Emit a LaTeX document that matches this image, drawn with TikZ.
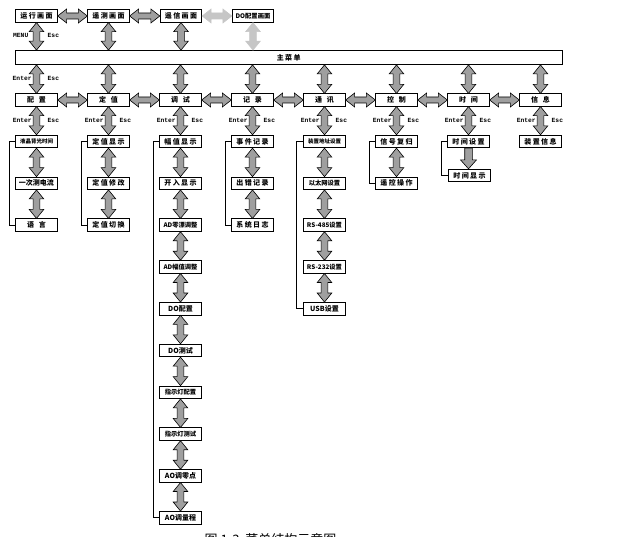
\documentclass[tikz,border=0pt]{standalone}
\usepackage{fontspec}
\setmonofont{Liberation Mono}
\newfontfamily\cjk{Noto Sans CJK SC}
\newfontfamily\cjkm[LetterSpace=20]{Noto Sans CJK SC}
\newfontfamily\cjkw[LetterSpace=70]{Noto Sans CJK SC}
\usetikzlibrary{calc}
\tikzset{
  box/.style={draw, line width=0.8pt, fill=white, minimum width=41.5pt, minimum height=12.5pt, inner sep=0pt, font=\cjk\bfseries\fontsize{7}{7}\selectfont},
  wide/.style={font=\cjkw\bfseries\fontsize{7}{7}\selectfont},
  mid/.style={font=\cjkm\bfseries\fontsize{7}{7}\selectfont},
  sm/.style={font=\cjk\bfseries\fontsize{5.5}{5.5}\selectfont},
  md/.style={font=\cjk\bfseries\fontsize{6.3}{6.3}\selectfont},
  darr/.style={draw=black, line width=0.6pt, fill=gray!75, line join=miter},
  larr/.style={draw=gray!45, line width=0.6pt, fill=gray!45},
  brk/.style={draw, line width=0.8pt},
  key/.style={font=\ttfamily\bfseries\fontsize{6.3}{6.3}\selectfont, inner sep=0pt},
}
\newcommand\vda[3][darr]{\draw[#1] let \p1=#2, \p2=#3 in (\x1,\y1) -- (\x1+7.3pt,\y1-9pt) -- (\x1+3.4pt,\y1-9pt) -- (\x1+3.4pt,\y2+9pt) -- (\x1+7.3pt,\y2+9pt) -- (\x1,\y2) -- (\x1-7.3pt,\y2+9pt) -- (\x1-3.4pt,\y2+9pt) -- (\x1-3.4pt,\y1-9pt) -- (\x1-7.3pt,\y1-9pt) -- cycle;}
\newcommand\hda[3][darr]{\draw[#1] let \p1=#2, \p2=#3 in (\x1,\y1) -- (\x1+9pt,\y1+7pt) -- (\x1+9pt,\y1+3pt) -- (\x2-9pt,\y1+3pt) -- (\x2-9pt,\y1+7pt) -- (\x2,\y1) -- (\x2-9pt,\y1-7pt) -- (\x2-9pt,\y1-3pt) -- (\x1+9pt,\y1-3pt) -- (\x1+9pt,\y1-7pt) -- cycle;}
\newcommand\sda[2]{\draw[darr] let \p1=#1, \p2=#2 in (\x1-3.8pt,\y1) -- (\x1+3.8pt,\y1) -- (\x1+3.8pt,\y2+9pt) -- (\x1+8pt,\y2+9pt) -- (\x1,\y2) -- (\x1-8pt,\y2+9pt) -- (\x1-3.8pt,\y2+9pt) -- cycle;}
\begin{document}
\begin{tikzpicture}[x=1pt,y=-1pt]
\useasboundingbox (0,0) rectangle (633,537);
% top row
\node[box,mid] (r1) at (36.5,16) {运行画面};
\node[box,mid] (r2) at (108.5,16) {遥测画面};
\node[box,mid] (r3) at (181,16) {遥信画面};
\node[box,md] (r4) at (253,16) {DO配置画面};
% main bar
\node[box,mid,minimum width=546.5pt,minimum height=14pt] (bar) at (288.75,57.5) {主菜单};
% second row
\node[box,wide] (m1) at (36.5,100) {配置};
\node[box,wide] (m2) at (108.5,100) {定值};
\node[box,wide] (m3) at (180.5,100) {调试};
\node[box,wide] (m4) at (252.5,100) {记录};
\node[box,wide] (m5) at (324.5,100) {通讯};
\node[box,wide] (m6) at (396.5,100) {控制};
\node[box,wide] (m7) at (468.5,100) {时间};
\node[box,wide] (m8) at (540.5,100) {信息};
% column 1
\node[box,sm] (a1) at (36.5,141.5) {液晶背光时间};
\node[box] (a2) at (36.5,183.3) {一次测电流};
\node[box,wide] (a3) at (36.5,225.1) {语言};
% column 2
\node[box,mid] (b1) at (108.5,141.5) {定值显示};
\node[box,mid] (b2) at (108.5,183.3) {定值修改};
\node[box,mid] (b3) at (108.5,225.1) {定值切换};
% column 3
\node[box,mid] (c1) at (180.5,141.5) {幅值显示};
\node[box,mid] (c2) at (180.5,183.3) {开入显示};
\node[box,md] (c3) at (180.5,225.1) {AD零漂调整};
\node[box,md] (c4) at (180.5,266.9) {AD幅值调整};
\node[box] (c5) at (180.5,308.7) {DO配置};
\node[box] (c6) at (180.5,350.5) {DO测试};
\node[box,md] (c7) at (180.5,392.3) {指示灯配置};
\node[box,md] (c8) at (180.5,434.1) {指示灯测试};
\node[box] (c9) at (180.5,475.9) {AO调零点};
\node[box] (c10) at (180.5,517.7) {AO调量程};
% column 4
\node[box,mid] (d1) at (252.5,141.5) {事件记录};
\node[box,mid] (d2) at (252.5,183.3) {出错记录};
\node[box,mid] (d3) at (252.5,225.1) {系统日志};
% column 5
\node[box,sm] (e1) at (324.5,141.5) {装置地址设置};
\node[box,md] (e2) at (324.5,183.3) {以太网设置};
\node[box,md] (e3) at (324.5,225.1) {RS-485设置};
\node[box,md] (e4) at (324.5,266.9) {RS-232设置};
\node[box] (e5) at (324.5,308.7) {USB设置};
% column 6
\node[box,mid] (f1) at (396.5,141.5) {信号复归};
\node[box,mid] (f2) at (396.5,183.3) {遥控操作};
% column 7
\node[box,mid] (g1) at (468.5,141.5) {时间设置};
\node[box,mid] (g2) at (469.5,175.5) {时间显示};
% column 8
\node[box,mid] (h1) at (540.5,141.5) {装置信息};
% top arrows
\hda{(r1.east)}{(r2.west)}
\hda{(r2.east)}{(r3.west)}
\hda[larr]{(r3.east)}{(r4.west)}
\vda{(r1.south)}{(bar.north)}
\vda{(r2.south)}{(bar.north)}
\vda{(r3.south)}{(bar.north)}
\vda[larr]{(r4.south)}{(bar.north)}
% bar to second row
\foreach \m in {m1,m2,m3,m4,m5,m6,m7,m8} {\vda{(bar.south -| \m)}{(\m.north)}}
% second row horizontals
\hda{(m1.east)}{(m2.west)}
\hda{(m2.east)}{(m3.west)}
\hda{(m3.east)}{(m4.west)}
\hda{(m4.east)}{(m5.west)}
\hda{(m5.east)}{(m6.west)}
\hda{(m6.east)}{(m7.west)}
\hda{(m7.east)}{(m8.west)}
% second row to sub
\vda{(m1.south)}{(a1.north)}
\vda{(m2.south)}{(b1.north)}
\vda{(m3.south)}{(c1.north)}
\vda{(m4.south)}{(d1.north)}
\vda{(m5.south)}{(e1.north)}
\vda{(m6.south)}{(f1.north)}
\vda{(m7.south)}{(g1.north)}
\vda{(m8.south)}{(h1.north)}
% chains
\vda{(a1.south)}{(a2.north)}
\vda{(a2.south)}{(a3.north)}
\vda{(b1.south)}{(b2.north)}
\vda{(b2.south)}{(b3.north)}
\foreach \i [evaluate=\i as \j using int(\i+1)] in {1,...,9} {\vda{(c\i.south)}{(c\j.north)}}
\vda{(d1.south)}{(d2.north)}
\vda{(d2.south)}{(d3.north)}
\vda{(e1.south)}{(e2.north)}
\vda{(e2.south)}{(e3.north)}
\vda{(e3.south)}{(e4.north)}
\vda{(e4.south)}{(e5.north)}
\vda{(f1.south)}{(f2.north)}
\sda{(g1.south)}{(g2.north -| g1)}
% brackets
\draw[brk] (a1.west) -- ++(-5.5,0) |- (a3.west);
\draw[brk] (b1.west) -- ++(-6,0) |- (b3.west);
\draw[brk] (c1.west) -- ++(-6,0) |- (c10.west);
\draw[brk] (d1.west) -- ++(-6,0) |- (d3.west);
\draw[brk] (e1.west) -- ++(-7,0) |- (e5.west);
\draw[brk] (f1.west) -- ++(-6,0) |- (f2.west);
\draw[brk] (g1.west) -- ++(-6,0) |- (g2.west);
% key labels
\node[key,anchor=east] (menu) at (28.5,35) {MENU};
\node[key,anchor=west] (esc0) at (47.5,35) {Esc};
\node[key,anchor=east] (ent1) at (31.8,78) {Enter};
\node[key,anchor=west] (esc1) at (47.5,78) {Esc};
\foreach \x [count=\k] in {36.5,108.5,180.5,252.5,324.5,396.5,468.5,540.5} {
  \node[key,anchor=east] (ent2\k) at (\x-4.6,120.5) {Enter};
  \node[key,anchor=west] (esc2\k) at (\x+11,120.5) {Esc};
}
% caption (cut by the page edge, as in the reference)
\node[font=\cjk\fontsize{13}{13}\selectfont, inner sep=0pt] (cap) at (270.5,540) {图 1-3\ \ 菜单结构示意图};
\end{tikzpicture}
\end{document}
